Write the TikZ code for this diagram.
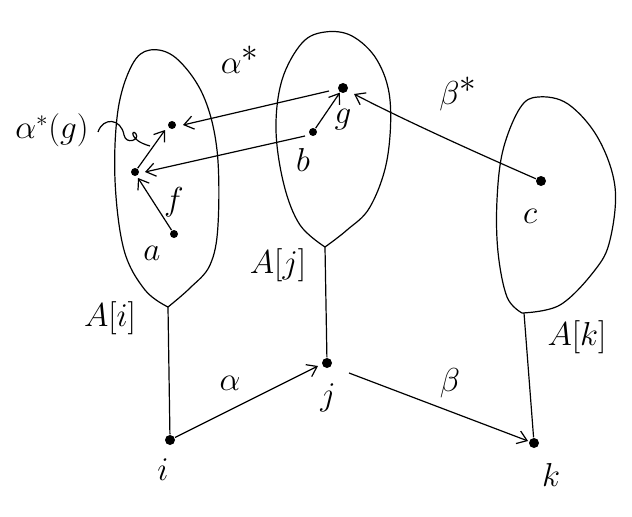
\documentclass[tikz,border=0pt]{standalone}
\usetikzlibrary{arrows.meta}
\begin{document}
\begin{tikzpicture}[x=0.75pt,y=-0.75pt,
  line width=0.9pt,
  pen/.style={line width=0.9pt},
  arr/.style={pen,-{Straight Barb[length=7pt,width=10pt,line width=0.9pt]}},
  dot/.style={circle,fill=black,inner sep=0pt,minimum size=6pt},
  bigdot/.style={circle,fill=black,inner sep=0pt,minimum size=7.5pt},
  lab/.style={inner sep=1pt,font=\fontsize{32}{34}\selectfont},
  biglab/.style={inner sep=1pt,font=\fontsize{38}{40}\selectfont},
  setlab/.style={inner sep=1pt,font=\fontsize{30}{32}\selectfont},
  ptrlab/.style={inner sep=1pt,font=\fontsize{25}{27}\selectfont}]
\useasboundingbox (0,0) rectangle (632,517);

% blobs
\draw[pen] plot[smooth,tension=0.6] coordinates{(168,307) (145,290) (124,250) (115,180) (118,110) (132,65) (150,50) (176,58) (203,95) (217,150) (218,225) (210,265) (190,288) (168,307)};
\draw[pen] plot[smooth,tension=0.6] coordinates{(325,247) (300,225) (284,185) (276,130) (282,80) (302,43) (325,32) (352,36) (377,60) (390,100) (387,160) (370,207) (347,230) (325,247)};
\draw[pen] plot[smooth,tension=0.6] coordinates{(522,313) (507,297) (498,252) (497,200) (503,150) (520,108) (538,97) (568,104) (598,138) (615,187) (610,240) (595,270) (560,305) (522,313)};

% points
\node[bigdot] (i) at (170,440) {};
\node[bigdot] (j) at (327,363) {};
\node[bigdot] (k) at (534,443) {};
\node[dot] (a) at (174,234) {};
\node[dot] (f) at (135,172) {};
\node[dot] (ag) at (172,125) {};
\node[bigdot] (g) at (343,88) {};
\node[dot] (b) at (313,132) {};
\node[bigdot] (c) at (541,181) {};

% pinch coordinates
\coordinate (pi) at (168,307);
\coordinate (pj) at (325,247);
\coordinate (pk) at (524,313);

% stems
\draw[pen] (pi) -- (i);
\draw[pen] (pj) -- (j);
\draw[pen] (pk) -- (k);

% base arrows
\draw[arr] (i) -- ([shift={(-9,3)}]j.center);
\draw[arr] ([shift={(22,10)}]j.center) -- ([shift={(-6,-2)}]k.center);

% inner arrows
\draw[arr] (a) -- ([shift={(3,6)}]f.center);
\draw[arr] (b) -- (g);
\draw[arr] (f) -- ([shift={(-7,5)}]ag.center);
\draw[arr] ([shift={(-14,3)}]g.center) -- ([shift={(11,0)}]ag.center);
\draw[arr] ([shift={(-8,4)}]b.center) -- ([shift={(10,0)}]f.center);
\draw[arr] (c) .. controls (470,150) and (400,118) .. ([shift={(11,6)}]g.center);

% curly pointer for alpha*(g)
\coordinate (cp0) at (98,132);
\coordinate (cp1) at (150,146);
\draw[pen] (cp0) .. controls (103,117) and (121,118) .. (124,135)
  .. controls (126,145) and (140,140) .. (136,134)
  .. controls (132,128) and (128,140) .. (cp1);

% labels
\node[biglab] (lastar) at (240,60) {$\alpha^{*}$};
\node[biglab] (lbstar) at (458,94) {$\beta^{*}$};
\node[ptrlab] (lag) at (52,130) {$\alpha^{*}(g)$};
\node[lab] (lg) at (343,120) {$g$};
\node[lab] (lb) at (303,160) {$b$};
\node[lab] (lf) at (174,202) {$f$};
\node[lab] (la) at (152,253) {$a$};
\node[lab] (lc) at (530,216) {$c$};
\node[setlab] (lAi) at (110,318) {$A[i]$};
\node[setlab] (lAj) at (278,265) {$A[j]$};
\node[setlab] (lAk) at (577,337) {$A[k]$};
\node[biglab] (lal) at (230,383) {$\alpha$};
\node[biglab] (lbe) at (450,383) {$\beta$};
\node[lab] (li) at (163,470) {$i$};
\node[lab] (lj) at (328,398) {$j$};
\node[lab] (lk) at (551,475) {$k$};
\end{tikzpicture}
\end{document}
